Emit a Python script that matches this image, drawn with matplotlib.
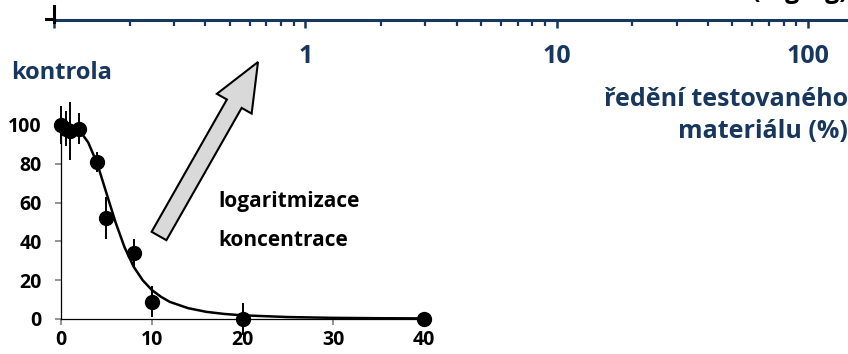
"""Dose-response of the control vs tested material dilution, with log-axis hint."""

import matplotlib

matplotlib.use("Agg")

import matplotlib.pyplot as plt
from matplotlib.patches import FancyArrow
from matplotlib.ticker import FixedLocator, FixedFormatter, LogLocator, NullFormatter

plt.rcParams["font.family"] = ["Open Sans", "DejaVu Sans"]
plt.rcParams["font.weight"] = "bold"

NAVY = "#17375E"

# measured response (% of control) with error bars
conc = [0, 0.5, 1, 2, 4, 5, 8, 10, 20, 40]
resp = [100, 98, 97, 98, 81, 52, 34, 9, 0, 0]
err = [10, 9, 15, 8, 5, 11, 7, 8, 8, 0]

# fitted dose-response curve
fit_x = [0, 1, 2, 3, 4, 5, 6, 7, 8, 9, 10, 11, 12, 14, 16, 18, 20, 25, 30, 35, 40]
fit_y = [100, 99.6, 97.5, 91, 80, 65, 50, 37, 27, 20, 15, 11.5, 8.8, 5.6,
         3.7, 2.6, 1.9, 1.0, 0.6, 0.4, 0.3]

x_ticks = [0, 10, 20, 30, 40]
y_ticks = [0, 20, 40, 60, 80, 100]

# upper log axis (dilution of tested material, %)
log_ticks = [0.1, 1, 10, 100]
log_labels = ["", "1", "10", "100"]

fig = plt.figure(figsize=(8.48, 3.54), dpi=100)

ax = fig.add_axes([61 / 848, 35 / 354, 363 / 848, 194 / 354])
ax.plot(fit_x, fit_y, color="black", lw=1.8, zorder=2)
ax.errorbar(conc, resp, yerr=err, fmt="o", color="black", ms=10,
            elinewidth=1.4, capsize=0, zorder=3, clip_on=False)
ax.set_xlim(0, 40)
ax.set_ylim(0, 100)
ax.set_xticks(x_ticks)
ax.set_yticks(y_ticks)
for side in ("top", "right"):
    ax.spines[side].set_visible(False)
ax.spines["left"].set_linewidth(0.9)
ax.spines["bottom"].set_linewidth(0.9)
ax.tick_params(axis="x", direction="out", length=4, width=1.2,
               color="#808080", labelsize=14, pad=4)
ax.tick_params(axis="y", direction="out", length=4, width=1.2,
               color="#808080", labelsize=14, pad=10)
for lab in ax.get_xticklabels() + ax.get_yticklabels():
    lab.set_fontweight("bold")

top = fig.add_axes([54 / 848, 334 / 354, 794 / 848, 0.01])
top.set_xscale("log")
top.set_xlim(0.1, 10 ** (2 + 40 / 251))
top.patch.set_visible(False)
for side in ("top", "left", "right"):
    top.spines[side].set_visible(False)
top.spines["bottom"].set_color(NAVY)
top.spines["bottom"].set_linewidth(2.2)
top.set_yticks([])
top.xaxis.set_major_locator(FixedLocator(log_ticks))
top.xaxis.set_major_formatter(FixedFormatter(log_labels))
top.xaxis.set_minor_locator(LogLocator(base=10, subs=range(2, 10)))
top.xaxis.set_minor_formatter(NullFormatter())
top.tick_params(axis="x", which="major", direction="out", length=6, width=1.8,
                color=NAVY, labelcolor=NAVY, labelsize=18, pad=11)
top.tick_params(axis="x", which="minor", direction="out", length=4.3, width=1.6,
                color=NAVY)
for lab in top.get_xticklabels():
    lab.set_fontweight("bold")

# pixel-space overlay for the decorations, on top of the axes
over = fig.add_axes([0, 0, 1, 1], zorder=5)
over.set_xlim(0, 848)
over.set_ylim(354, 0)
over.patch.set_visible(False)
over.axis("off")

# control marker at the start of the log axis
over.plot([54, 54], [6, 22], color="black", lw=2.2)
over.plot([46, 54], [19, 19], color="black", lw=2.2)

over.text(848, -2, "(mg/kg)", ha="right", va="baseline", fontsize=18,
          fontweight="bold", color="black")
over.text(62, 73, "kontrola", ha="center", va="center", fontsize=17,
          fontweight="bold", color=NAVY)
over.text(848, 100, "ředění testovaného", ha="right", va="center",
          fontsize=18, fontweight="bold", color=NAVY)
over.text(848, 132, "materiálu (%)", ha="right", va="center",
          fontsize=18, fontweight="bold", color=NAVY)
over.text(218, 202, "logaritmizace", ha="left", va="center", fontsize=15,
          fontweight="bold", color="black")
over.text(218, 240, "koncentrace", ha="left", va="center", fontsize=15,
          fontweight="bold", color="black")

over.add_patch(FancyArrow(159, 236, 99, -174, width=17,
                          head_width=40, head_length=48,
                          length_includes_head=True, facecolor="#d9d9d9",
                          edgecolor="black", lw=1.5))

fig.savefig("out.png", dpi=100)
